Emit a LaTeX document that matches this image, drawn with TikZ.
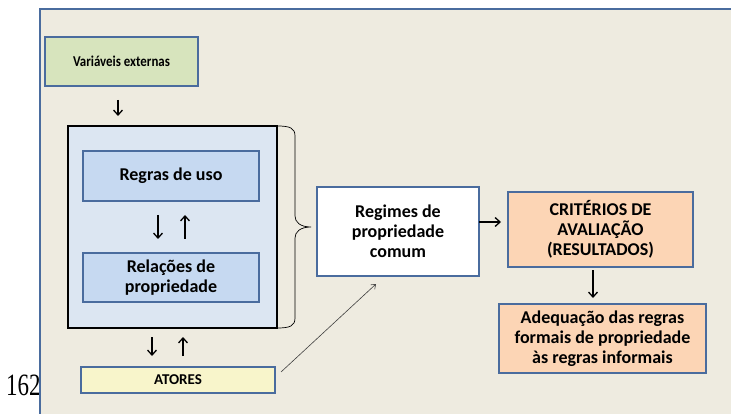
\documentclass[tikz,border=0pt]{standalone}
\usepackage{fontspec}
\setmainfont{Carlito}
\newfontfamily\serifnum{Liberation Serif}
\usetikzlibrary{arrows.meta}
\definecolor{panelfill}{RGB}{238,235,224}
\definecolor{bordblue}{RGB}{74,108,158}
\definecolor{varfill}{RGB}{215,228,189}
\definecolor{bigfill}{RGB}{220,230,242}
\definecolor{innerfill}{RGB}{198,217,241}
\definecolor{atorfill}{RGB}{248,245,203}
\definecolor{critfill}{RGB}{252,213,181}
\tikzset{
  bx/.style={draw=bordblue, line width=1.4pt, inner sep=0pt, align=center,
    font=\bfseries\fontsize{18}{20}\selectfont},
  arr/.style={-{Straight Barb[length=5pt,width=9pt]}, line width=1.3pt, black},
  thinarr/.style={-{Straight Barb[length=4pt,width=6pt]}, line width=0.6pt, black!75},
}
\begin{document}
\begin{tikzpicture}[x=1pt,y=-1pt]
\useasboundingbox (0,0) rectangle (731,414);
\fill[white] (0,0) rectangle (731,414);
\node[anchor=base west, inner sep=0pt, font=\serifnum\fontsize{31}{31}\selectfont, xscale=0.74] (num) at (6,395) {162};
\fill[panelfill] (40,9) rectangle (731,414);
\draw[bordblue, line width=1.2pt] (40,414) -- (40,9) -- (731,9);

\node[bx, fill=varfill, minimum width=153pt, minimum height=49pt, font=\bfseries\fontsize{15}{17}\selectfont] (var) at (121.5,61.5) {\scalebox{0.86}[1]{Variáveis externas}};
\node[draw=black, line width=1.8pt, fill=bigfill, minimum width=209pt, minimum height=202pt, inner sep=0pt] (big) at (172.5,227) {};
\node[bx, fill=innerfill, minimum width=176pt, minimum height=50pt] (uso) at (171,176) {Regras de uso};
\node[bx, fill=innerfill, minimum width=176pt, minimum height=49pt] (rel) at (171,277.5) {Relações de\\propriedade};
\node[bx, fill=atorfill, minimum width=194pt, minimum height=26pt, font=\bfseries\fontsize{15}{17}\selectfont] (ator) at (178,380) {ATORES};
\node[bx, fill=white, minimum width=162pt, minimum height=89pt] (reg) at (398,231.5) {Regimes de\\propriedade\\comum};
\node[bx, fill=critfill, minimum width=185pt, minimum height=75pt] (crit) at (600.5,229.5) {CRITÉRIOS DE\\AVALIAÇÃO\\(RESULTADOS)};
\node[bx, fill=critfill, minimum width=207pt, minimum height=69pt] (adeq) at (602.5,338.5) {Adequação das regras\\formais de propriedade\\às regras informais};

% free-standing arrows
\coordinate (a1s) at (118,100); \coordinate (a1e) at (118,116);
\draw[arr] (a1s) -- (a1e);
\coordinate (a2s) at (158,215); \coordinate (a2e) at (158,239);
\draw[arr] (a2s) -- (a2e);
\coordinate (a3s) at (185,239); \coordinate (a3e) at (185,215);
\draw[arr] (a3s) -- (a3e);
\coordinate (a4s) at (152,337); \coordinate (a4e) at (152,356);
\draw[arr] (a4s) -- (a4e);
\coordinate (a5s) at (183,356); \coordinate (a5e) at (183,337);
\draw[arr] (a5s) -- (a5e);
\coordinate (a6s) at (479,222); \coordinate (a6e) at (501,222);
\draw[arr] (a6s) -- (a6e);
\coordinate (a7s) at (593,270); \coordinate (a7e) at (593,298);
\draw[arr] (a7s) -- (a7e);
\coordinate (t1s) at (281,372); \coordinate (t1e) at (376,284);
\draw[thinarr] (t1s) -- (t1e);

% brace
\draw[line width=0.7pt, black] (277,126) .. controls (290,126) and (295,128) .. (295,136)
  -- (295,216) .. controls (295,222) and (300,227) .. (311,227)
  .. controls (300,227) and (295,232) .. (295,238)
  -- (295,318) .. controls (295,326) and (290,328) .. (277,328);
\end{tikzpicture}
\end{document}
